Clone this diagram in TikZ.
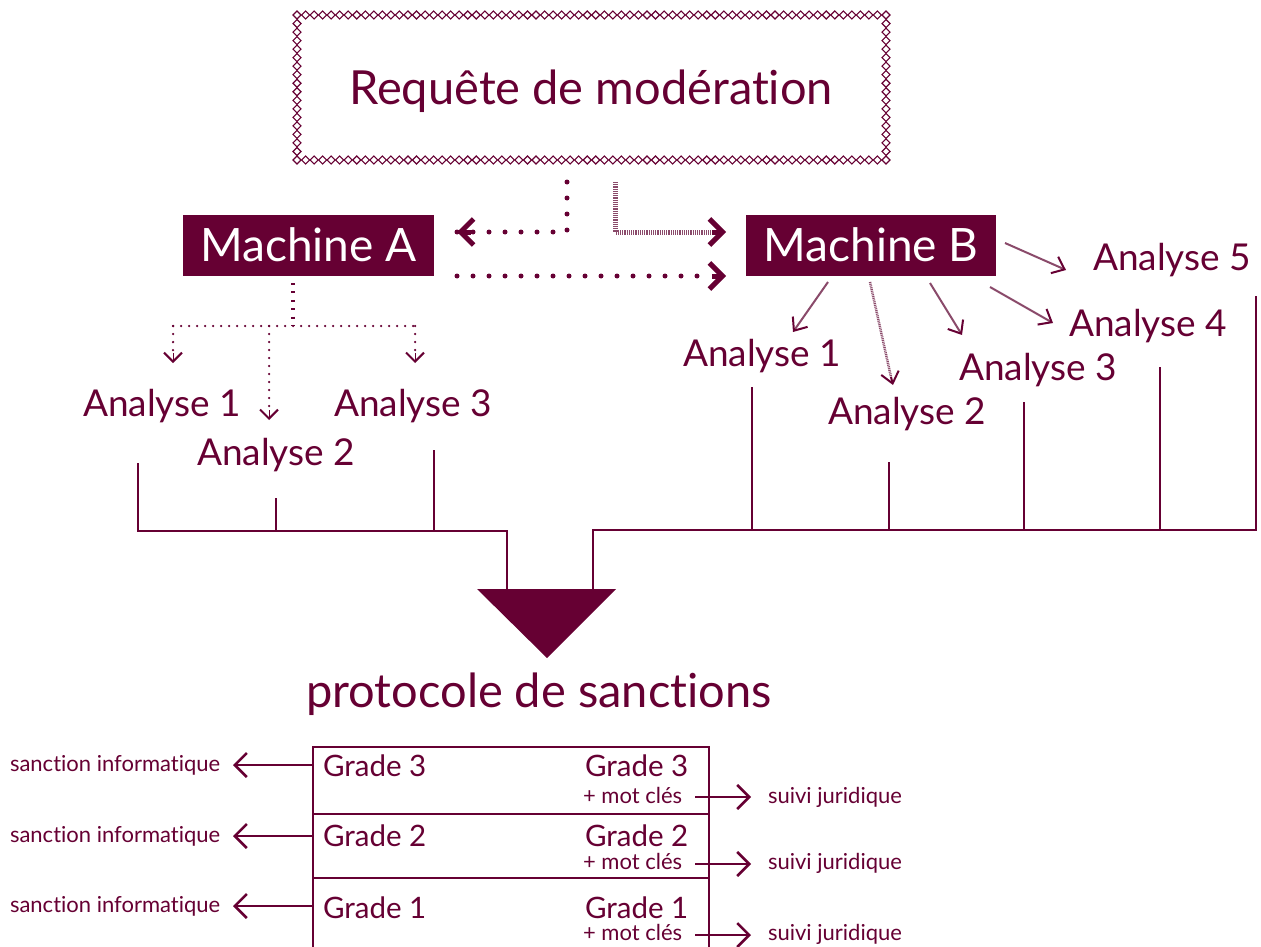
\documentclass[tikz,border=0pt]{standalone}
\usepackage{fontspec}
\setmainfont{Lato}[Ligatures=NoCommon]
\usetikzlibrary{arrows.meta}
\definecolor{maroon}{HTML}{660033}
\definecolor{lmaroon}{HTML}{8A4A6A}
\begin{document}
\begin{tikzpicture}[x=1pt,y=-1pt,
  every node/.style={inner sep=0pt,outer sep=0pt,text=maroon},
  bigtxt/.style={font=\fontsize{47}{47}\selectfont},
  anatxt/.style={font=\fontsize{37}{37}\selectfont},
  gradetxt/.style={font=\fontsize{29.5}{29.5}\selectfont},
  smalltxt/.style={font=\fontsize{22}{22}\selectfont},
  machine/.style={fill=maroon,minimum height=61pt},
  machtxt/.style={text=white,font=\fontsize{46}{46}\selectfont},
  bigdots/.style={maroon,line width=5pt,line cap=round,dash pattern=on 0pt off 16pt},
  smallchev/.style={-{Straight Barb[length=9pt,width=18pt,line width=2pt]}},
  thinarrow/.style={lmaroon,line width=2pt,-{Straight Barb[length=11pt,width=18pt,color=maroon]}},
  bracket/.style={maroon,line width=2.5pt},
  tabline/.style={maroon,line width=2.5pt},
  sidearrow/.style={maroon,line width=2.5pt,-{Straight Barb[length=12pt,width=24pt]}}
]
\useasboundingbox (0,0) rectangle (1261,947);

% --- top box with diamond chain border
\node[bigtxt,anchor=base] (req) at (591,105) {Requête de modération};
\begin{scope}[maroon,line width=1.1pt]
\foreach \i in {0,...,69}{
  \draw (297+\i*8.536,15) +(-4,0) -- +(0,-4) -- +(4,0) -- +(0,4) -- cycle;
  \draw (297+\i*8.536,160) +(-4,0) -- +(0,-4) -- +(4,0) -- +(0,4) -- cycle;
}
\foreach \i in {1,...,16}{
  \draw (297,15+\i*8.53) +(-4,0) -- +(0,-4) -- +(4,0) -- +(0,4) -- cycle;
  \draw (886,15+\i*8.53) +(-4,0) -- +(0,-4) -- +(4,0) -- +(0,4) -- cycle;
}
\end{scope}

% --- machines
\node[machine,minimum width=251pt] (ma) at (308.5,245.5) {};
\node[machtxt,anchor=base] (mat) at (308.5,261) {Machine A};
\node[machine,minimum width=250pt] (mb) at (871,245.5) {};
\node[machtxt,anchor=base] (mbt) at (871,261) {Machine B};

% --- connectors between request and machines
\coordinate (d1) at (567,182);
\coordinate (d2) at (567,232);
\coordinate (d3) at (457,232);
\draw[bigdots] (d1) -- (d2) -- (d3);
\draw[maroon,line width=5pt,-{Straight Barb[length=13pt,width=26pt]}] (471,232) -- (d3);

\coordinate (s1) at (615,182);
\coordinate (s2) at (615,232);
\coordinate (s3) at (726,232);
\draw[lmaroon,line width=5pt,dash pattern=on 1.2pt off 1pt] (s1) -- (s2) -- (712,232);
\draw[maroon,line width=5pt,-{Straight Barb[length=13pt,width=26pt]}] (712,232) -- (s3);

\coordinate (e1) at (457,276);
\coordinate (e2) at (712,276);
\coordinate (e3) at (726,276);
\draw[bigdots] (e1) -- (e2);
\draw[maroon,line width=5pt,-{Straight Barb[length=13pt,width=26pt]}] (e2) -- (e3);

% --- Machine A analyses
\node[anatxt,anchor=base] (la1) at (162,416) {Analyse 1};
\node[anatxt,anchor=base] (la2) at (276,465) {Analyse 2};
\node[anatxt,anchor=base] (la3) at (413,416) {Analyse 3};

\coordinate (m1) at (293,283);
\coordinate (m2) at (293,326);
\draw[maroon,line width=4pt,dash pattern=on 2pt off 6.4pt] (m1) -- (m2);
\draw[maroon,line width=2.5pt,line cap=round,dash pattern=on 0pt off 8pt] (173,326) -- (415,326);
\draw[maroon,line width=2.5pt,line cap=round,dash pattern=on 0pt off 8pt] (173,326) -- (173,352);
\draw[maroon,line width=2.5pt,line cap=round,dash pattern=on 0pt off 8pt] (269,326) -- (269,410);
\draw[maroon,line width=2.5pt,line cap=round,dash pattern=on 0pt off 8pt] (415,326) -- (415,352);
\draw[maroon,smallchev] (173,353) -- (173,363);
\draw[maroon,smallchev] (269,410) -- (269,420);
\draw[maroon,smallchev] (415,353) -- (415,363);

% --- Machine B analyses
\node[anatxt,anchor=base] (lb1) at (762,366) {Analyse 1};
\node[anatxt,anchor=base] (lb2) at (907,424) {Analyse 2};
\node[anatxt,anchor=base] (lb3) at (1038,380) {Analyse 3};
\node[anatxt,anchor=base] (lb4) at (1148,336) {Analyse 4};
\node[anatxt,anchor=base] (lb5) at (1172,270) {Analyse 5};

\draw[thinarrow] (828,282) -- (793,332);
\draw[lmaroon,line width=2.5pt,dash pattern=on 1pt off 0.8pt] (870,282) -- (891,377);
\draw[maroon,line width=2pt,-{Straight Barb[length=11pt,width=18pt]}] (891,377) -- (893,385);
\draw[thinarrow] (930,283) -- (962,335);
\draw[thinarrow] (990,287) -- (1053,323);
\draw[thinarrow] (1005,243) -- (1066,270);

% --- collecting brackets
\draw[bracket] (138,463) -- (138,531) -- (507,531) -- (507,590);
\draw[bracket] (276,498) -- (276,531);
\draw[bracket] (434,450) -- (434,531);
\draw[bracket] (593,590) -- (593,530) -- (1256,530) -- (1256,296);
\draw[bracket] (752,387) -- (752,530);
\draw[bracket] (889,462) -- (889,530);
\draw[bracket] (1024,402) -- (1024,530);
\draw[bracket] (1160,367) -- (1160,530);

% --- funnel triangle
\fill[maroon] (477,589) -- (616,589) -- (547,658) -- cycle;

\node[bigtxt,anchor=base] (proto) at (539,707) {protocole de sanctions};

% --- sanctions table
\draw[tabline] (313,960) -- (313,747) -- (709,747) -- (709,960);
\draw[tabline] (313,814) -- (709,814);
\draw[tabline] (313,878) -- (709,878);

\foreach \y/\g/\m/\la/\ra [count=\k] in {776/3/803/765/797, 846/2/869/836/864, 918/1/940/906/935}{
  \node[gradetxt,anchor=base west] (gl\k) at (323,\y) {Grade \g};
  \node[gradetxt,anchor=base west] (gr\k) at (585,\y) {Grade \g};
  \node[smalltxt,anchor=base west] (mc\k) at (583,\m) {+ mot clés};
  \node[smalltxt,anchor=base west] (si\k) at (10,\la+6) {sanction informatique};
  \node[smalltxt,anchor=base west] (sj\k) at (768,\m) {suivi juridique};
  \draw[sidearrow] (313,\la) -- (233,\la);
  \draw[sidearrow] (695,\ra) -- (751,\ra);
}
\end{tikzpicture}
\end{document}
